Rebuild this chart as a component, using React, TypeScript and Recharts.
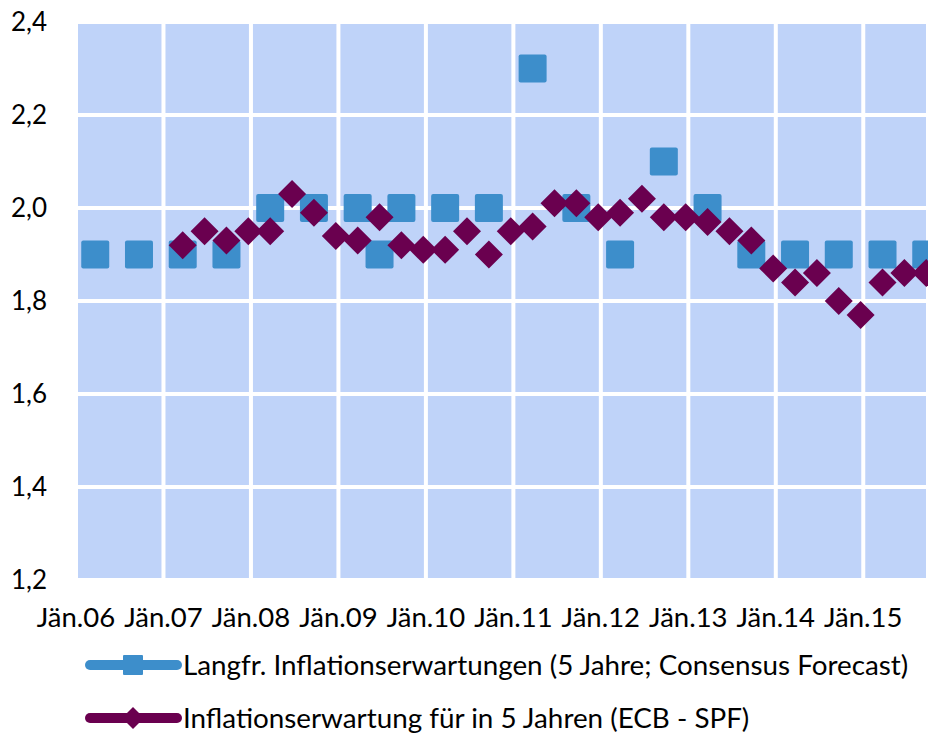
import { ScatterChart, Scatter, XAxis, YAxis, CartesianGrid } from "recharts";

// quarters, Q1.06 ... Q3.15
const quarters = [
  "Q1.06", "Q2.06", "Q3.06", "Q4.06",
  "Q1.07", "Q2.07", "Q3.07", "Q4.07",
  "Q1.08", "Q2.08", "Q3.08", "Q4.08",
  "Q1.09", "Q2.09", "Q3.09", "Q4.09",
  "Q1.10", "Q2.10", "Q3.10", "Q4.10",
  "Q1.11", "Q2.11", "Q3.11", "Q4.11",
  "Q1.12", "Q2.12", "Q3.12", "Q4.12",
  "Q1.13", "Q2.13", "Q3.13", "Q4.13",
  "Q1.14", "Q2.14", "Q3.14", "Q4.14",
  "Q1.15", "Q2.15", "Q3.15",
];

// Consensus Forecast, long-term (5y)
const consensus = [
  1.9, null, 1.9, null,
  1.9, null, 1.9, null,
  2.0, null, 2.0, null,
  2.0, 1.9, 2.0, null,
  2.0, null, 2.0, null,
  2.3, null, 2.0, null,
  1.9, null, 2.1, null,
  2.0, null, 1.9, null,
  1.9, null, 1.9, null,
  1.9, null, 1.9,
];

// ECB SPF, 5 years ahead
const spf = [
  null, null, null, null,
  1.92, 1.95, 1.93, 1.95,
  1.95, 2.03, 1.99, 1.94,
  1.93, 1.98, 1.92, 1.91,
  1.91, 1.95, 1.9, 1.95,
  1.96, 2.01, 2.01, 1.98,
  1.99, 2.02, 1.98, 1.98,
  1.97, 1.95, 1.93, 1.87,
  1.84, 1.86, 1.8, 1.77,
  1.84, 1.86, 1.86,
];

const yearTicks = [0, 1, 2, 3, 4, 5, 6, 7, 8, 9];
const yTicks = [1.2, 1.4, 1.6, 1.8, 2.0, 2.2, 2.4];

const BLUE = "#3d8ecb";
const PURPLE = "#6a004f";
const BG = "#bfd3f9";
const FONT = "Lato, sans-serif";

// years since Jan 2006, survey date sits a bit into the quarter
const toX = (label: string) => {
  const q = Number(label[1]);
  const yr = Number(label.slice(3));
  return yr - 6 + (q - 1) * 0.25 + 0.22;
};

const toPoints = (values: (number | null)[]) =>
  quarters
    .map((q, i) => ({ x: toX(q), y: values[i] }))
    .filter((p) => p.y !== null);

const consensusData = toPoints(consensus);
const spfData = toPoints(spf);

const Square = (props: any) => {
  const { cx, cy } = props;
  return <rect x={cx - 14} y={cy - 14} width={28} height={28} rx={2} fill={BLUE} />;
};

const Diamond = (props: any) => {
  const { cx, cy } = props;
  return (
    <polygon
      points={`${cx},${cy - 14} ${cx + 14},${cy} ${cx},${cy + 14} ${cx - 14},${cy}`}
      fill={PURPLE}
    />
  );
};

const legendItems = [
  { label: "Langfr. Inflationserwartungen (5 Jahre; Consensus Forecast)", color: BLUE, marker: "square" },
  { label: "Inflationserwartung für in 5 Jahren (ECB - SPF)", color: PURPLE, marker: "diamond" },
];

function Legend() {
  return (
    <div style={{ position: "absolute", left: 84, top: 638 }}>
      {legendItems.map((item) => (
        <div key={item.label} style={{ display: "flex", alignItems: "center", height: 53 }}>
          <svg width={98} height={30}>
            <line x1={6} y1={15} x2={93} y2={15} stroke={item.color} strokeWidth={10} strokeLinecap="round" />
            {item.marker === "square" ? (
              <rect x={39} y={5} width={20} height={20} rx={1} fill={item.color} />
            ) : (
              <polygon points="49,4 60,15 49,26 38,15" fill={item.color} />
            )}
          </svg>
          <span style={{ fontFamily: FONT, fontSize: 27.8, color: "#000", marginLeft: 1, whiteSpace: "nowrap" }}>
            {item.label}
          </span>
        </div>
      ))}
    </div>
  );
}

export default function App() {
  return (
    <div style={{ position: "absolute", left: 0, top: 0, width: 928, height: 736, background: "#fff" }}>
      <ScatterChart
        width={928}
        height={736}
        margin={{ top: 22, right: 0, bottom: 96, left: 0 }}
      >
        <CartesianGrid fill={BG} stroke="#fff" strokeWidth={4} strokeOpacity={1} />
        <XAxis
          type="number"
          dataKey="x"
          domain={[0, 9.74]}
          ticks={yearTicks}
          allowDataOverflow
          tickFormatter={(v: number) => `Jän.${String(6 + v).padStart(2, "0")}`}
          axisLine={false}
          tickLine={false}
          tickSize={0}
          tickMargin={27}
          height={60}
          interval={0}
          tick={{ fill: "#000", fontSize: 27.5, fontFamily: FONT }}
        />
        <YAxis
          type="number"
          dataKey="y"
          domain={[1.2, 2.4]}
          ticks={yTicks}
          tickFormatter={(v: number) => v.toFixed(1).replace(".", ",")}
          axisLine={false}
          tickLine={false}
          tickSize={0}
          tickMargin={29}
          width={76}
          interval={0}
          tick={{ fill: "#000", fontSize: 26, fontFamily: FONT }}
        />
        <Scatter data={consensusData} shape={Square} isAnimationActive={false} />
        <Scatter data={spfData} shape={Diamond} isAnimationActive={false} />
      </ScatterChart>
      <Legend />
    </div>
  );
}
